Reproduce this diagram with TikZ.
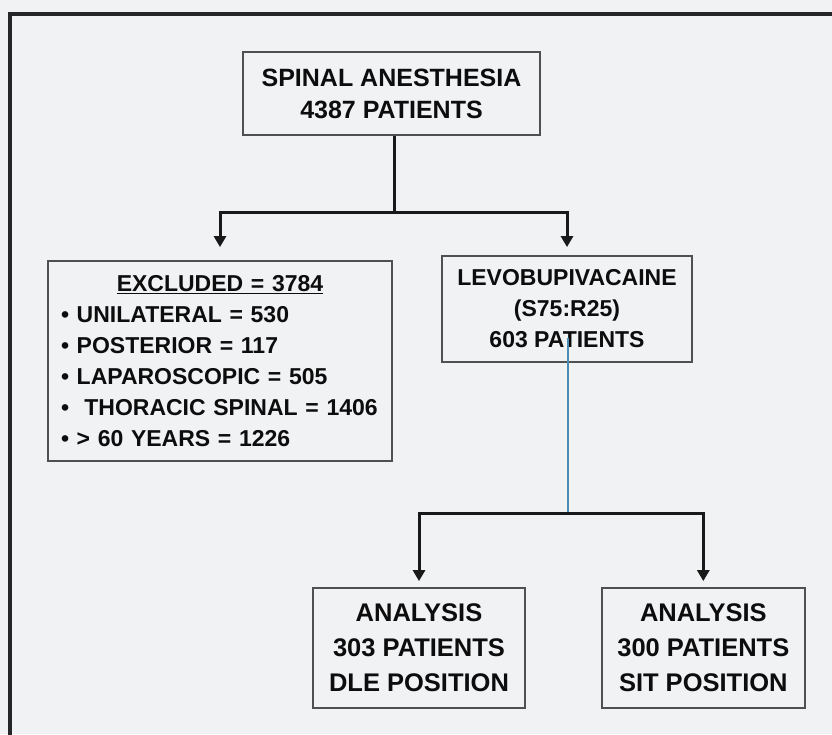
\documentclass[tikz,border=0pt]{standalone}
\usepackage{fontspec}
\setmainfont{Liberation Sans}
\usetikzlibrary{arrows.meta,positioning}
\definecolor{pagebg}{HTML}{F1F2F4}
\definecolor{boxline}{HTML}{505050}
\definecolor{splitblue}{HTML}{4A8DB5}

\begin{document}
\begin{tikzpicture}[x=1pt, y=-1pt,
  box/.style={draw=boxline, line width=1.8pt, align=center, inner sep=0pt,
              text=black!95, font=\bfseries\fontsize{25}{32}\selectfont},
  midbox/.style={box, font=\bfseries\fontsize{23}{31}\selectfont},
  endbox/.style={box, font=\bfseries\fontsize{25.5}{35}\selectfont, minimum height=120pt},
  conn/.style={line width=3pt, draw=black!90},
  arr/.style={conn, -{Triangle[width=12pt,length=11pt]}},
  bluearm/.style={line width=2.2pt, draw=splitblue},
  frame/.style={line width=3.2pt, draw=black!85}
]
\useasboundingbox (0,0) rectangle (832,734);
\fill[pagebg] (0,0) rectangle (832,734);
\draw[frame] (834,14) -- (10,14) -- (10,736);

\node[box, minimum width=297pt, minimum height=83pt] (spinal) at (391.5,93.5)
  {SPINAL ANESTHESIA\\4387 PATIENTS};
\node[midbox, align=left, text width=318pt, inner xsep=13pt, minimum height=200pt] (excl) at (220,361)
  {\makebox[\linewidth]{\underline{EXCLUDED = 3784}}\\
   • UNILATERAL = 530\\
   • POSTERIOR = 117\\
   • LAPAROSCOPIC = 505\\
   • \ THORACIC SPINAL = 1406\\
   • > 60 YEARS = 1226};
\node[midbox, minimum width=250pt, minimum height=106pt] (levo) at (567,309)
  {LEVOBUPIVACAINE\\(S75:R25)\\603 PATIENTS};
\node[endbox, minimum width=212pt] (dle) at (419,648)
  {ANALYSIS\\303 PATIENTS\\DLE POSITION};
\node[endbox, minimum width=203pt, right=75pt of dle] (sit)
  {ANALYSIS\\300 PATIENTS\\SIT POSITION};

\coordinate (fork1) at (394,212);
\coordinate (fork2) at (568,513);

\draw[conn] (spinal.south -| fork1) -- (fork1);
\draw[arr, shorten >=13pt] (fork1) -| (excl);
\draw[arr, shorten >=8pt] (fork1) -| (levo);
\draw[bluearm] ([yshift=25pt]levo.south -| fork2) -- (fork2);
\draw[arr, shorten >=6pt] (fork2) -| (dle);
\draw[arr, shorten >=6pt] (fork2) -| (sit);
\end{tikzpicture}
\end{document}
